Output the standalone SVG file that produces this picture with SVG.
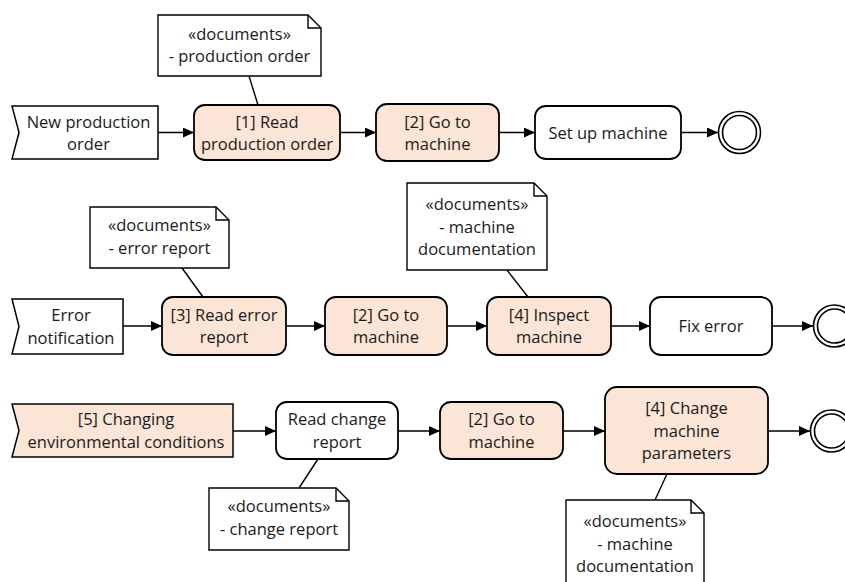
<svg xmlns="http://www.w3.org/2000/svg" width="845" height="582" viewBox="0 0 845 582">
<style>
text{font-family:"Open Sans","Noto Sans","Liberation Sans",sans-serif;font-size:16.5px;fill:#1a1a1a;text-anchor:middle}
.task{stroke:#000;stroke-width:1.8}
.hl{fill:#FBE5D6}
.wt{fill:#fff}
.ev{stroke:#000;stroke-width:1.5}
.note{fill:#fff;stroke:#000;stroke-width:1.4}
.fold{fill:none;stroke:#000;stroke-width:1.4}
.conn{stroke:#000;stroke-width:1.6;fill:none}
.assoc{stroke:#000;stroke-width:1.4;fill:none}
.end{fill:#fff;stroke:#000;stroke-width:1.6}
</style>
<defs>
<marker id="ah" markerUnits="userSpaceOnUse" markerWidth="12" markerHeight="11" refX="11" refY="5" orient="auto">
<path d="M0,0 L11,5 L0,10 z" fill="#000"/>
</marker>
</defs>
<rect width="845" height="582" fill="#fff"/>

<g id="connectors">
<line class="conn" x1="158" y1="132.5" x2="194" y2="132.5" marker-end="url(#ah)"/>
<line class="conn" x1="340" y1="132.5" x2="376" y2="132.5" marker-end="url(#ah)"/>
<line class="conn" x1="499" y1="132.5" x2="535" y2="132.5" marker-end="url(#ah)"/>
<line class="conn" x1="681" y1="132.5" x2="718" y2="132.5" marker-end="url(#ah)"/>
<line class="conn" x1="123" y1="326" x2="162" y2="326" marker-end="url(#ah)"/>
<line class="conn" x1="286" y1="326" x2="325" y2="326" marker-end="url(#ah)"/>
<line class="conn" x1="447" y1="326" x2="487" y2="326" marker-end="url(#ah)"/>
<line class="conn" x1="611" y1="326" x2="650" y2="326" marker-end="url(#ah)"/>
<line class="conn" x1="772" y1="326" x2="813" y2="326" marker-end="url(#ah)"/>
<line class="conn" x1="233" y1="431" x2="276" y2="431" marker-end="url(#ah)"/>
<line class="conn" x1="398" y1="431" x2="440" y2="431" marker-end="url(#ah)"/>
<line class="conn" x1="563" y1="431" x2="605" y2="431" marker-end="url(#ah)"/>
<line class="conn" x1="768" y1="431" x2="810" y2="431" marker-end="url(#ah)"/>
<line class="assoc" x1="249" y1="76" x2="258" y2="105"/>
<line class="assoc" x1="182" y1="268" x2="203" y2="297"/>
<line class="assoc" x1="507" y1="270" x2="528" y2="297"/>
<line class="assoc" x1="318" y1="459" x2="299" y2="488"/>
<line class="assoc" x1="667" y1="474" x2="655" y2="500"/>
</g>

<g id="ev1">
<path class="ev wt" d="M12,106 H158 V159 H12 L19,132.5 Z"/>
<text x="88.5" y="127.5">New production</text>
<text x="88.5" y="150">order</text>
</g>
<g id="t1">
<rect class="task hl" x="194" y="105" width="146" height="55" rx="11"/>
<text x="267" y="127.5">[1] Read</text>
<text x="267" y="150">production order</text>
</g>
<g id="t2a">
<rect class="task hl" x="376" y="104" width="123" height="57" rx="11"/>
<text x="437.5" y="127.5">[2] Go to</text>
<text x="437.5" y="150">machine</text>
</g>
<g id="t_setup">
<rect class="task wt" x="535" y="106" width="146" height="53" rx="11"/>
<text x="608" y="138.5">Set up machine</text>
</g>
<g id="end1">
<circle class="end" cx="739.5" cy="132.5" r="21"/>
<circle class="end" cx="739.5" cy="132.5" r="17"/>
</g>
<g id="n1">
<path class="note" d="M158,15 H308 L321,28 V76 H158 Z"/>
<path class="fold" d="M308,15 V28 H321"/>
<text x="239.5" y="39.5">«documents»</text>
<text x="239.5" y="62">- production order</text>
</g>

<g id="ev2">
<path class="ev wt" d="M12,299 H123 V354 H12 L19,326.5 Z"/>
<text x="71" y="321">Error</text>
<text x="71" y="343.5">notification</text>
</g>
<g id="t3">
<rect class="task hl" x="162" y="297" width="124" height="58" rx="11"/>
<text x="224" y="320.5">[3] Read error</text>
<text x="224" y="343">report</text>
</g>
<g id="t2b">
<rect class="task hl" x="325" y="297" width="122" height="58" rx="11"/>
<text x="386" y="320.5">[2] Go to</text>
<text x="386" y="343">machine</text>
</g>
<g id="t4a">
<rect class="task hl" x="487" y="297" width="124" height="58" rx="11"/>
<text x="549" y="320.5">[4] Inspect</text>
<text x="549" y="343">machine</text>
</g>
<g id="t_fix">
<rect class="task wt" x="650" y="297" width="122" height="58" rx="11"/>
<text x="711" y="332">Fix error</text>
</g>
<g id="end2">
<circle class="end" cx="834.5" cy="326" r="21"/>
<circle class="end" cx="834.5" cy="326" r="17"/>
</g>
<g id="n2">
<path class="note" d="M90,207 H216 L229,220 V268 H90 Z"/>
<path class="fold" d="M216,207 V220 H229"/>
<text x="159.5" y="231">«documents»</text>
<text x="159.5" y="253.5">- error report</text>
</g>
<g id="n3">
<path class="note" d="M407,183 H534 L547,196 V270 H407 Z"/>
<path class="fold" d="M534,183 V196 H547"/>
<text x="477" y="210">«documents»</text>
<text x="477" y="232.5">- machine</text>
<text x="477" y="255">documentation</text>
</g>

<g id="ev3">
<path class="ev hl" d="M12,404 H233 V457 H12 L19,430.5 Z"/>
<text x="126" y="425">[5] Changing</text>
<text x="126" y="447.5">environmental conditions</text>
</g>
<g id="t_read">
<rect class="task wt" x="276" y="402" width="122" height="57" rx="11"/>
<text x="337" y="425">Read change</text>
<text x="337" y="447.5">report</text>
</g>
<g id="t2c">
<rect class="task hl" x="440" y="402" width="123" height="57" rx="11"/>
<text x="501.5" y="425">[2] Go to</text>
<text x="501.5" y="447.5">machine</text>
</g>
<g id="t4b">
<rect class="task hl" x="605" y="387" width="163" height="87" rx="12"/>
<text x="686.5" y="414">[4] Change</text>
<text x="686.5" y="436.5">machine</text>
<text x="686.5" y="459">parameters</text>
</g>
<g id="end3">
<circle class="end" cx="831.5" cy="431" r="21"/>
<circle class="end" cx="831.5" cy="431" r="17"/>
</g>
<g id="n4">
<path class="note" d="M209,488 H336 L349,501 V550 H209 Z"/>
<path class="fold" d="M336,488 V501 H349"/>
<text x="279" y="512">«documents»</text>
<text x="279" y="534.5">- change report</text>
</g>
<g id="n5">
<path class="note" d="M566,500 H691 L704,513 V590 H566 Z"/>
<path class="fold" d="M691,500 V513 H704"/>
<text x="635" y="527">«documents»</text>
<text x="635" y="549.5">- machine</text>
<text x="635" y="572">documentation</text>
</g>
</svg>
